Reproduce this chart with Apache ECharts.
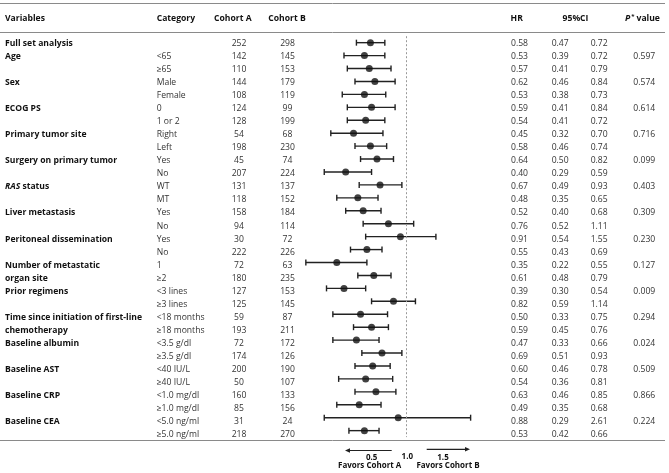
<!DOCTYPE html>
<html>
<head>
<meta charset="utf-8">
<script src="https://cdn.jsdelivr.net/npm/echarts@6/dist/echarts.min.js"></script>
<style>
html,body{margin:0;padding:0;background:#fff;}
#chart{width:669px;height:473px;}
</style>
</head>
<body>
<div id="chart"></div>
<script>
// ---- data ----
var variables = ['Full set analysis','Age','','Sex','','ECOG PS','','Primary tumor site','','Surgery on primary tumor','',
  '{i|RAS} status','','Liver metastasis','','Peritoneal dissemination','','Number of metastatic','organ site','Prior regimens','',
  'Time since initiation of first-line','chemotherapy','Baseline albumin','','Baseline AST','','Baseline CRP','','Baseline CEA',''];
var categories = ['','<65','≥65','Male','Female','0','1 or 2','Right','Left','Yes','No','WT','MT','Yes','No','Yes','No','1','≥2',
  '<3 lines','≥3 lines','<18 months','≥18 months','<3.5 g/dl','≥3.5 g/dl','<40 IU/L','≥40 IU/L','<1.0 mg/dl','≥1.0 mg/dl','<5.0 ng/ml','≥5.0 ng/ml'];
var cohortA = [252,142,110,144,108,124,128,54,198,45,207,131,118,158,94,30,222,72,180,127,125,59,193,72,174,200,50,160,85,31,218];
var cohortB = [298,145,153,179,119,99,199,68,230,74,224,137,152,184,114,72,226,63,235,153,145,87,211,172,126,190,107,133,156,24,270];
var hr = [0.58,0.53,0.57,0.62,0.53,0.59,0.54,0.45,0.58,0.64,0.40,0.67,0.48,0.52,0.76,0.91,0.55,0.35,0.61,0.39,0.82,0.50,0.59,0.47,0.69,0.60,0.54,0.63,0.49,0.88,0.53];
var ciLow = [0.47,0.39,0.41,0.46,0.38,0.41,0.41,0.32,0.46,0.50,0.29,0.49,0.35,0.40,0.52,0.54,0.43,0.22,0.48,0.30,0.59,0.33,0.45,0.33,0.51,0.46,0.36,0.46,0.35,0.29,0.42];
var ciHigh = ['0.72','0.72','0.79','0.84','0.73','0.84','0.72','0.70','0.74','0.82','0.59','0.93','0.65','0.68','1.11','1.55','0.69','0.55','0.79','0.54','1.14','0.75','0.76','0.66','0.93','0.78','0.81','0.85','0.68','2.61','0.66'];
var pValues = ['','0.597','','0.574','','0.614','','0.716','','0.099','','0.403','','0.309','','0.230','','0.127','','0.009','','0.294','','0.024','','0.509','','0.866','','0.224',''];
var axisTickLabels = ['0.5','1.0','1.5'];
var favorLabels = ['Favors Cohort A','Favors Cohort B'];

var rows = categories.map(function(_, i){ return 'r' + i; });
var FONT = '"Open Sans", sans-serif';
var FS = 8.6;

var chart = echarts.init(document.getElementById('chart'), null, {renderer:'canvas'});

var option = {
  animation: false,
  backgroundColor: '#fff',
  grid: [
    {left: 299.5, width: 180.4, top: 36.2, height: 400.9},
    {left: 0, right: 0, top: 36.8, height: 404.7}
  ],
  xAxis: [
    {type: 'log', logBase: 10, min: 0.2, max: 3, gridIndex: 0, show: false},
    {type: 'value', min: 0, max: 1, gridIndex: 1, show: false}
  ],
  yAxis: [
    {type: 'category', data: rows, inverse: true, gridIndex: 0, show: false},
    {type: 'category', data: rows, inverse: true, gridIndex: 1, show: false}
  ],
  series: [
    {
      type: 'custom',
      xAxisIndex: 0, yAxisIndex: 0,
      data: hr.map(function(v, i){ return [ciLow[i], +ciHigh[i], i]; }),
      encode: {x: [0, 1], y: 2},
      renderItem: function(params, api){
        var a = api.coord([api.value(0), api.value(2)]);
        var b = api.coord([api.value(1), api.value(2)]);
        var c = 3;
        var st = {stroke: '#222', lineWidth: 1.4};
        return {type: 'group', children: [
          {type: 'line', shape: {x1: a[0], y1: a[1], x2: b[0], y2: b[1]}, style: st},
          {type: 'line', shape: {x1: a[0], y1: a[1]-c, x2: a[0], y2: a[1]+c}, style: st},
          {type: 'line', shape: {x1: b[0], y1: b[1]-c, x2: b[0], y2: b[1]+c}, style: st}
        ]};
      },
      z: 3
    },
    {
      type: 'scatter',
      xAxisIndex: 0, yAxisIndex: 0,
      data: hr.map(function(v, i){ return [v, i]; }),
      symbol: 'circle', symbolSize: 7,
      itemStyle: {color: '#111'},
      z: 4,
      markLine: {
        silent: true, symbol: 'none', label: {show: false},
        lineStyle: {type: [2, 2], color: '#999', width: 1},
        data: [{xAxis: 1}]
      }
    }
  ]
};
chart.setOption(option);

function rowY(i){ return chart.convertToPixel({yAxisIndex: 1}, i); }

var g = [];
function txt(x, y, s, opt){
  opt = opt || {};
  g.push({type: 'text', x: x, y: y, silent: true, z: 10, style: {
    text: s, x: 0, y: 0, font: (opt.bold ? 'bold ' : '') + (opt.size || FS) + 'px ' + FONT,
    fill: opt.color || (opt.bold ? '#111' : '#333'),
    textAlign: opt.align || 'left', textVerticalAlign: 'middle',
    rich: opt.rich
  }});
}
function hline(y){
  g.push({type: 'line', silent: true, shape: {x1: 0, y1: y, x2: 665, y2: y}, style: {stroke: '#8a8a8a', lineWidth: 1}});
}
hline(3.5); hline(32.5); hline(440.5);

// header
var hy = 19;
txt(5, hy, 'Variables', {bold: true});
txt(156.7, hy, 'Category', {bold: true});
txt(214, hy, 'Cohort A', {bold: true});
txt(268.3, hy, 'Cohort B', {bold: true});
txt(516.7, hy, 'HR', {bold: true, align: 'center'});
txt(575.5, hy, '95%CI', {bold: true, align: 'center'});
txt(625, hy, '{p|P}{s|*}{v|value}', {bold: true, rich: {
  p: {font: 'italic bold ' + FS + 'px ' + FONT, fill: '#111'},
  s: {font: 'bold 6px ' + FONT, fill: '#111', verticalAlign: 'top', padding: [0, 2, 5, 1]},
  v: {font: 'bold ' + FS + 'px ' + FONT, fill: '#111'}
}});

var richVar = {i: {font: 'italic bold ' + FS + 'px ' + FONT, fill: '#111'}};
for (var i = 0; i < categories.length; i++) {
  var y = rowY(i);
  if (variables[i]) txt(5, y, variables[i], {bold: true, rich: richVar});
  if (categories[i]) txt(156.7, y, categories[i]);
  txt(239, y, String(cohortA[i]), {align: 'center'});
  txt(287.5, y, String(cohortB[i]), {align: 'center'});
  txt(511, y, hr[i].toFixed(2));
  txt(551.7, y, ciLow[i].toFixed(2));
  txt(590.7, y, ciHigh[i]);
  if (pValues[i]) txt(633.3, y, pValues[i]);
}

// bottom annotation
function arrow(x1, x2, y){
  var dir = x2 > x1 ? 1 : -1;
  g.push({type: 'line', silent: true, shape: {x1: x1, y1: y, x2: x2 - dir*3, y2: y}, style: {stroke: '#222', lineWidth: 1.2}});
  g.push({type: 'polygon', silent: true, shape: {points: [[x2, y], [x2 - dir*5, y-2.2], [x2 - dir*5, y+2.2]]}, style: {fill: '#222'}});
}
arrow(391.7, 345, 450.5);
arrow(426.7, 470, 449.3);
txt(371.7, 457.5, axisTickLabels[0], {bold: true, align: 'center', size: 8});
txt(407.3, 457, axisTickLabels[1], {bold: true, align: 'center', size: 8});
txt(443, 457.5, axisTickLabels[2], {bold: true, align: 'center', size: 8});
txt(369.7, 466.2, favorLabels[0], {bold: true, align: 'center', size: 8});
txt(448, 466.2, favorLabels[1], {bold: true, align: 'center', size: 8});

chart.setOption({graphic: g});
</script>
</body>
</html>
